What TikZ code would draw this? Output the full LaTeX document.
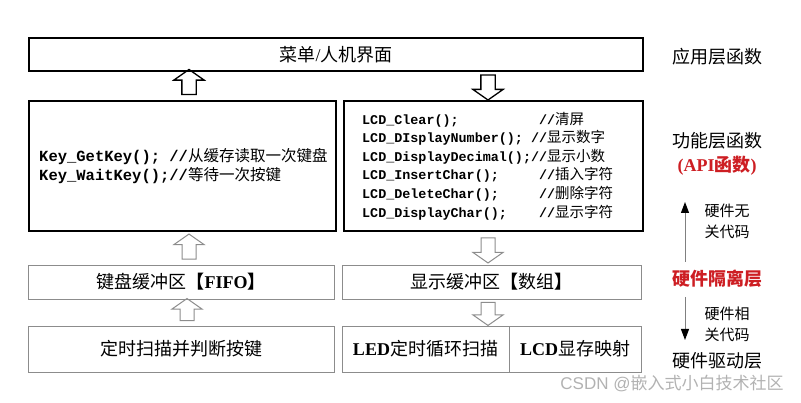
\documentclass[tikz,border=0pt]{standalone}
\usepackage{fontspec}
\setmainfont{Liberation Serif}
\setsansfont{Liberation Sans}
\setmonofont{Liberation Mono}
\newfontfamily\cjk{Noto Sans CJK SC}
\usetikzlibrary{shapes.arrows, arrows.meta, positioning}
\definecolor{apired}{RGB}{205,30,35}
\definecolor{boxgray}{RGB}{140,140,140}
\newcommand{\zh}[1]{{\cjk #1}}
\newcommand{\zc}[1]{{\cjk\mdseries #1}}

\begin{document}
\begin{tikzpicture}[x=1pt, y=-1pt, font=\fontsize{18}{22}\selectfont,
  layer/.style={draw, line width=1.6pt, inner sep=0pt, outer sep=0pt},
  buffer/.style={draw=boxgray, line width=0.9pt, inner sep=0pt, outer sep=0pt, minimum width=306pt, minimum height=34pt},
  driver/.style={buffer, minimum height=46pt},
  code/.style={anchor=west, align=left, inner sep=0pt},
  blockarrow/.style={single arrow, draw, inner xsep=0pt, inner ysep=6.5pt, single arrow head extend=8pt, single arrow tip angle=110, single arrow head indent=0pt},
  blackup/.style={blockarrow, line width=1.3pt, minimum height=25pt, rotate=90},
  blackdown/.style={blockarrow, line width=1.3pt, minimum height=25pt, rotate=-90},
  grayup/.style={blockarrow, draw=boxgray, line width=1pt, rotate=90},
  graydown/.style={blockarrow, draw=boxgray, line width=1pt, rotate=-90},
  note/.style={align=center, font=\cjk\fontsize{15}{21}\selectfont},
  side/.style={draw=gray, line width=1pt, -{Triangle[color=black, length=11pt, width=8pt]}}]
\useasboundingbox (0,0) rectangle (801,403);
% boxes
\node[layer, minimum width=614pt, minimum height=33pt](menu) at (336,54.5){\zh{菜单}/\zh{人机界面}};
\node[layer, minimum width=307pt, minimum height=130pt](keyfunc) at (182.5,166){};
\node[layer, minimum width=299pt, minimum height=130pt](lcdfunc)[right=8pt of keyfunc]{};
\node[buffer](keybuf) at (181,282){\zh{键盘缓冲区\bfseries 【}\textbf{FIFO}\zh{\bfseries 】}};
\node[buffer, minimum width=299pt](lcdbuf)[right=8pt of keybuf]{\zh{显示缓冲区\bfseries 【\mdseries 数组\bfseries 】}};
\node[driver](keyscan)[below=27pt of keybuf]{\zh{定时扫描并判断按键}};
\node[driver, minimum width=167pt](ledscan)[right=8pt of keyscan]{\textbf{LED}\zh{定时循环扫描}};
\node[driver, minimum width=132pt](lcdmap)[right=0pt of ledscan]{\textbf{LCD}\zh{显存映射}};
% code lines
\node[code, font=\fontsize{15.5}{19.5}\selectfont\ttfamily\bfseries](keytxt)[right=10pt of keyfunc.west]{Key\_GetKey();~//\zc{从缓存读取一次键盘}\\Key\_WaitKey();//\zc{等待一次按键}};
\node[code, font=\fontsize{13.4}{18.6}\selectfont\ttfamily\bfseries](lcdtxt)[right=18pt of lcdfunc.west]{%
LCD\_Clear();~~~~~~~~~~//\zc{\fontsize{14.5}{18.6}\selectfont 清屏}\\
LCD\_DIsplayNumber();~//\zc{\fontsize{14.5}{18.6}\selectfont 显示数字}\\
LCD\_DisplayDecimal();//\zc{\fontsize{14.5}{18.6}\selectfont 显示小数}\\
LCD\_InsertChar();~~~~~//\zc{\fontsize{14.5}{18.6}\selectfont 插入字符}\\
LCD\_DeleteChar();~~~~~//\zc{\fontsize{14.5}{18.6}\selectfont 删除字符}\\
LCD\_DisplayChar();~~~~//\zc{\fontsize{14.5}{18.6}\selectfont 显示字符}};
% block arrows
\node[blackup](up1) at (189,84.5){};
\node[blackdown](down1) at (488,85){};
\node[grayup, minimum height=25pt](up2) at (189,249){};
\node[graydown, minimum height=25pt](down2) at (488,248){};
\node[grayup, minimum height=22pt](up3) at (187,312){};
\node[graydown, minimum height=23pt](down3) at (488,311.5){};
% layer labels
\node(app) at (717,57){\zh{应用层函数}};
\node(func) at (717,141){\zh{功能层函数}};
\node[text=apired](api) at (717,166){\textbf{(API}\zh{\bfseries 函数}\textbf{)}};
\node[text=apired](iso) at (717,279){\zh{\bfseries 硬件隔离层}};
\node(drv) at (717,361){\zh{硬件驱动层}};
\node[note](free) at (727,221){硬件无\\关代码};
\node[note](dep) at (727,324){硬件相\\关代码};
\coordinate(isotop) at (685,262);
\coordinate(apibot) at (685,202);
\coordinate(isobot) at (685,297);
\coordinate(drvtop) at (685,340);
\draw[side] (isotop) -- (apibot);
\draw[side] (isobot) -- (drvtop);
\node[text=black!30, font=\sffamily\fontsize{17}{20}\selectfont](mark) at (672,384){CSDN @\zh{嵌入式小白技术社区}};
\end{tikzpicture}
\end{document}
